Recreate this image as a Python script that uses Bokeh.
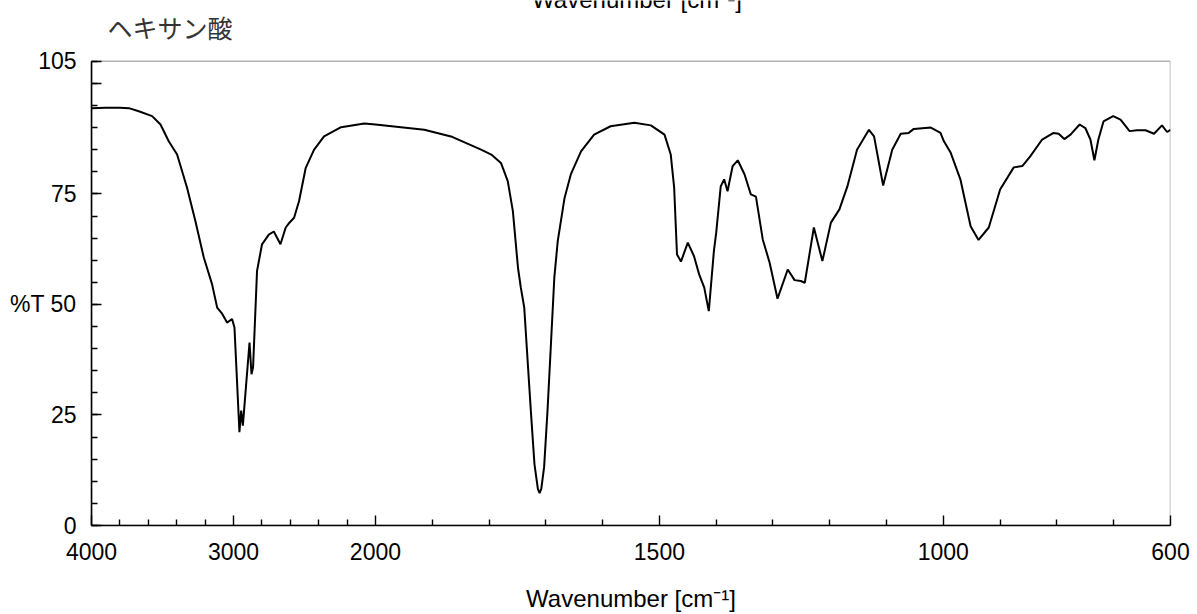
import numpy as np
from bokeh.plotting import figure
from bokeh.models import Range1d, FixedTicker, Label, BoxAnnotation
from bokeh.embed import file_html
from bokeh.resources import INLINE

title_text = "ヘキサン酸"
x_label = "Wavenumber [cm⁻¹]"

wavenumber = [4000, 3900, 3800, 3737, 3667, 3573, 3514, 3456, 3397, 3327, 3268, 3209, 3151,
              3115, 3080, 3045, 3010, 2993, 2958, 2946, 2934, 2887, 2873, 2862, 2834, 2799,
              2751, 2716, 2669, 2632, 2611, 2573, 2538, 2491, 2432, 2362, 2242, 2078, 2000,
              1914, 1867, 1837, 1814, 1796, 1779, 1767, 1758, 1749, 1744, 1738, 1732, 1726,
              1720, 1714, 1711, 1708, 1703, 1697, 1691, 1685, 1679, 1667, 1656, 1638, 1615,
              1586, 1544, 1515, 1491, 1480, 1474, 1469, 1462, 1450, 1439, 1430, 1421, 1413,
              1404, 1400, 1392, 1386, 1380, 1371, 1362, 1350, 1339, 1330, 1318, 1306, 1292,
              1274, 1262, 1251, 1244, 1228, 1213, 1198, 1183, 1169, 1152, 1131, 1122, 1106,
              1090, 1075, 1061, 1052, 1022, 1005, 999, 987, 970, 952, 938, 920, 900, 876,
              861, 847, 826, 806, 797, 787, 776, 760, 750, 741, 734, 727, 718, 701, 688,
              672, 659, 644, 629, 615, 606, 600]
transmittance = [94.4, 94.5, 94.5, 94.4, 93.7, 92.6, 90.7, 86.9, 83.9, 76.4, 68.8, 60.6, 54.6,
                 49.3, 47.9, 45.9, 46.7, 44.8, 21.1, 26.0, 22.6, 41.4, 34.2, 35.8, 57.6, 63.6,
                 65.8, 66.5, 63.6, 67.4, 68.3, 69.6, 73.4, 80.9, 85.0, 88.0, 90.1, 90.9, 90.7,
                 89.5, 88.0, 86.3, 85.0, 83.9, 82.0, 77.9, 71.1, 58.3, 53.8, 49.3, 37.2, 25.2,
                 13.9, 8.3, 7.3, 8.3, 13.2, 26.0, 41.0, 56.1, 64.3, 74.1, 79.4, 84.6, 88.4,
                 90.3, 91.1, 90.5, 88.4, 83.9, 76.4, 61.3, 59.7, 64.0, 60.9, 56.8, 53.8, 48.5,
                 62.1, 66.2, 76.7, 78.3, 75.6, 81.3, 82.6, 79.4, 74.9, 74.4, 64.7, 59.5, 51.3,
                 57.9, 55.5, 55.3, 54.9, 67.4, 59.8, 68.5, 71.5, 76.7, 85.0, 89.5, 88.0, 76.9,
                 85.0, 88.6, 88.8, 89.7, 90.0, 88.8, 86.9, 84.3, 78.3, 67.7, 64.6, 67.4, 76.0, 81.0,
                 81.3, 83.5, 87.3, 88.8, 88.6, 87.4, 88.4, 90.7, 89.9, 87.3, 82.6, 87.3, 91.4, 92.6, 91.8,
                 89.2, 89.4, 89.4, 88.6, 90.5, 89.0, 89.5]

x_major = [4000, 3000, 2000, 1500, 1000, 600]
x_minor = [3800, 3600, 3400, 3200, 2800, 2600, 2400, 2200,
           1900, 1800, 1700, 1600, 1400, 1300, 1200, 1100, 900, 800, 700]
y_major = [0, 25, 50, 75, 100, 105]
y_minor = list(range(0, 106, 5))
y_tick_labels = {0: "0", 25: "25", 50: "%T 50", 75: "75", 100: "", 105: "105"}
y_min, y_max = 0, 105


def to_axis(w):
    # IR-style x scale: region above 2000 cm-1 compressed 4:1
    w = np.asarray(w, dtype=float)
    return np.where(w > 2000, 2000 + (w - 2000) / 4.0, w)


FONT = "Liberation Sans"
FRAME_H = 527          # pixel height of drawing area (top of canvas to x axis)
PLOT_H = 466           # pixel height that holds 0..105
y_top = y_max * FRAME_H / PLOT_H   # headroom above the box for the title texts
x_left = float(to_axis(x_major[0]))
x_right = float(to_axis(x_major[-1]))

p = figure(width=1197, height=614, x_range=Range1d(x_left, x_right),
           y_range=Range1d(y_min, y_top), output_backend="svg", toolbar_location=None,
           title=None, min_border_left=91, min_border_right=27,
           min_border_top=0, min_border_bottom=87)
p.background_fill_color = "white"
p.border_fill_color = "white"
p.outline_line_color = None
p.xgrid.visible = False
p.ygrid.visible = False

p.add_layout(BoxAnnotation(left=x_left, right=x_right, bottom=y_min, top=y_max,
                           fill_alpha=0, line_color="black", line_width=1.6))

p.line(to_axis(wavenumber), transmittance, line_color="black", line_width=2)

xa = p.xaxis[0]
xa.ticker = FixedTicker(ticks=[float(v) for v in to_axis(x_major)],
                        minor_ticks=[float(v) for v in to_axis(x_minor)])
xa.major_label_overrides = {float(u): str(w) for u, w in zip(to_axis(x_major), x_major)}
ya = p.yaxis[0]
ya.ticker = FixedTicker(ticks=y_major, minor_ticks=y_minor)
ya.major_label_overrides = y_tick_labels
ya.bounds = (y_min, y_max)

for ax in (xa, ya):
    ax.axis_line_color = "black"
    ax.axis_line_width = 1.6
    ax.major_tick_line_color = "black"
    ax.minor_tick_line_color = "black"
    ax.major_tick_line_width = 1.4
    ax.minor_tick_line_width = 1.4
    ax.major_tick_in = 10
    ax.major_tick_out = 0
    ax.minor_tick_in = 6
    ax.minor_tick_out = 0
    ax.major_label_text_font = FONT
    ax.major_label_text_font_size = "23px"
    ax.major_label_text_color = "black"

xa.major_label_standoff = 17
ya.major_label_standoff = 15
xa.axis_label = x_label
xa.axis_label_text_font = FONT
xa.axis_label_text_font_size = "24px"
xa.axis_label_text_font_style = "normal"
xa.axis_label_text_color = "black"
xa.axis_label_standoff = 22

p.add_layout(Label(x=x_left, y=y_max, text=title_text, x_offset=16, y_offset=34,
                   text_align="left", text_baseline="middle", text_font="Noto Sans CJK JP",
                   text_font_size="25px", text_color="#333333"))
p.add_layout(Label(x=(x_left + x_right) / 2, y=y_max, text=x_label, x_offset=6, y_offset=62,
                   text_align="center", text_baseline="alphabetic", text_font=FONT,
                   text_font_size="24px", text_color="black"))

open("out.html", "w").write(file_html(p, INLINE))
